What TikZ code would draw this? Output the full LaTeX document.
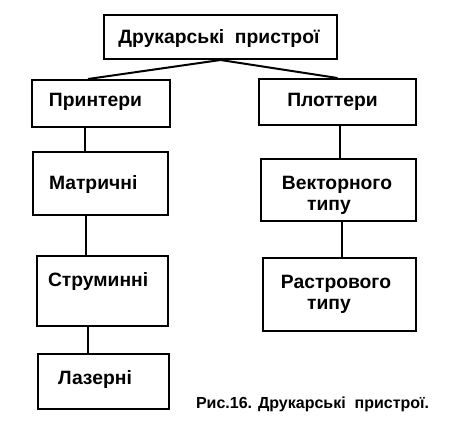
\documentclass[tikz,border=0pt]{standalone}
\usepackage{fontspec}
\setmainfont{Liberation Sans}
\begin{document}
\begin{tikzpicture}[x=1pt,y=-1pt,line width=2pt,
  box/.style={draw,rectangle,inner sep=0pt},
  lbl/.style={font=\bfseries\fontsize{19.3}{23}\selectfont,inner sep=0pt,text height=13.8pt,text depth=0pt},
  caplbl/.style={font=\bfseries\fontsize{16}{19}\selectfont,inner sep=0pt,text height=11.5pt,text depth=0pt}]
\useasboundingbox (0,0) rectangle (460,436);
% boxes
\node[box,minimum width=233pt,minimum height=44pt] (top) at (220.5,37) {};
\node[box,minimum width=138pt,minimum height=47pt] (pr) at (101,103.5) {};
\node[box,minimum width=157pt,minimum height=46pt] (pl) at (337.5,102) {};
\node[box,minimum width=135pt,minimum height=63pt] (mat) at (100.5,183.5) {};
\node[box,minimum width=131pt,minimum height=70pt] (str) at (102.5,291) {};
\node[box,minimum width=131pt,minimum height=55pt] (laz) at (103.5,381.5) {};
\node[box,minimum width=155pt,minimum height=62pt] (vek) at (338.5,190) {};
\node[box,minimum width=153pt,minimum height=73pt] (ras) at (339.5,294.5) {};
% texts
\node[lbl] (ttop) at (219,37) {Друкарські\ \ пристрої};
\node[lbl] (tpr) at (95.5,100) {Принтери};
\node[lbl] (tpl) at (332.5,100) {Плоттери};
\node[lbl,anchor=west] (tmat) at (48,183) {Матричні};
\node[lbl,anchor=west] (tstr) at (47,280) {Струминні};
\node[lbl,anchor=west] (tlaz) at (57,378) {Лазерні};
\node[lbl] (tvek1) at (337,183) {Векторного};
\node[lbl] (tvek2) at (329,204) {типу};
\node[lbl] (tras1) at (336,282) {Растрового};
\node[lbl] (tras2) at (329,303) {типу};
\node[caplbl,anchor=west] (cap) at (195,403) {Рис.16. Друкарські\ \ пристрої.};
% connectors
\draw (top.south) -- ([xshift=-13pt]pr.north);
\draw (top.south) -- (pl.north);
\draw (pr.south -| 85,0) -- (mat.north -| 85,0);
\draw (mat.south -| 86,0) -- (str.north -| 86,0);
\draw (str.south -| 88,0) -- (laz.north -| 88,0);
\draw (pl.south -| 340,0) -- (vek.north -| 340,0);
\draw (vek.south -| 342,0) -- (ras.north -| 342,0);
\end{tikzpicture}
\end{document}
